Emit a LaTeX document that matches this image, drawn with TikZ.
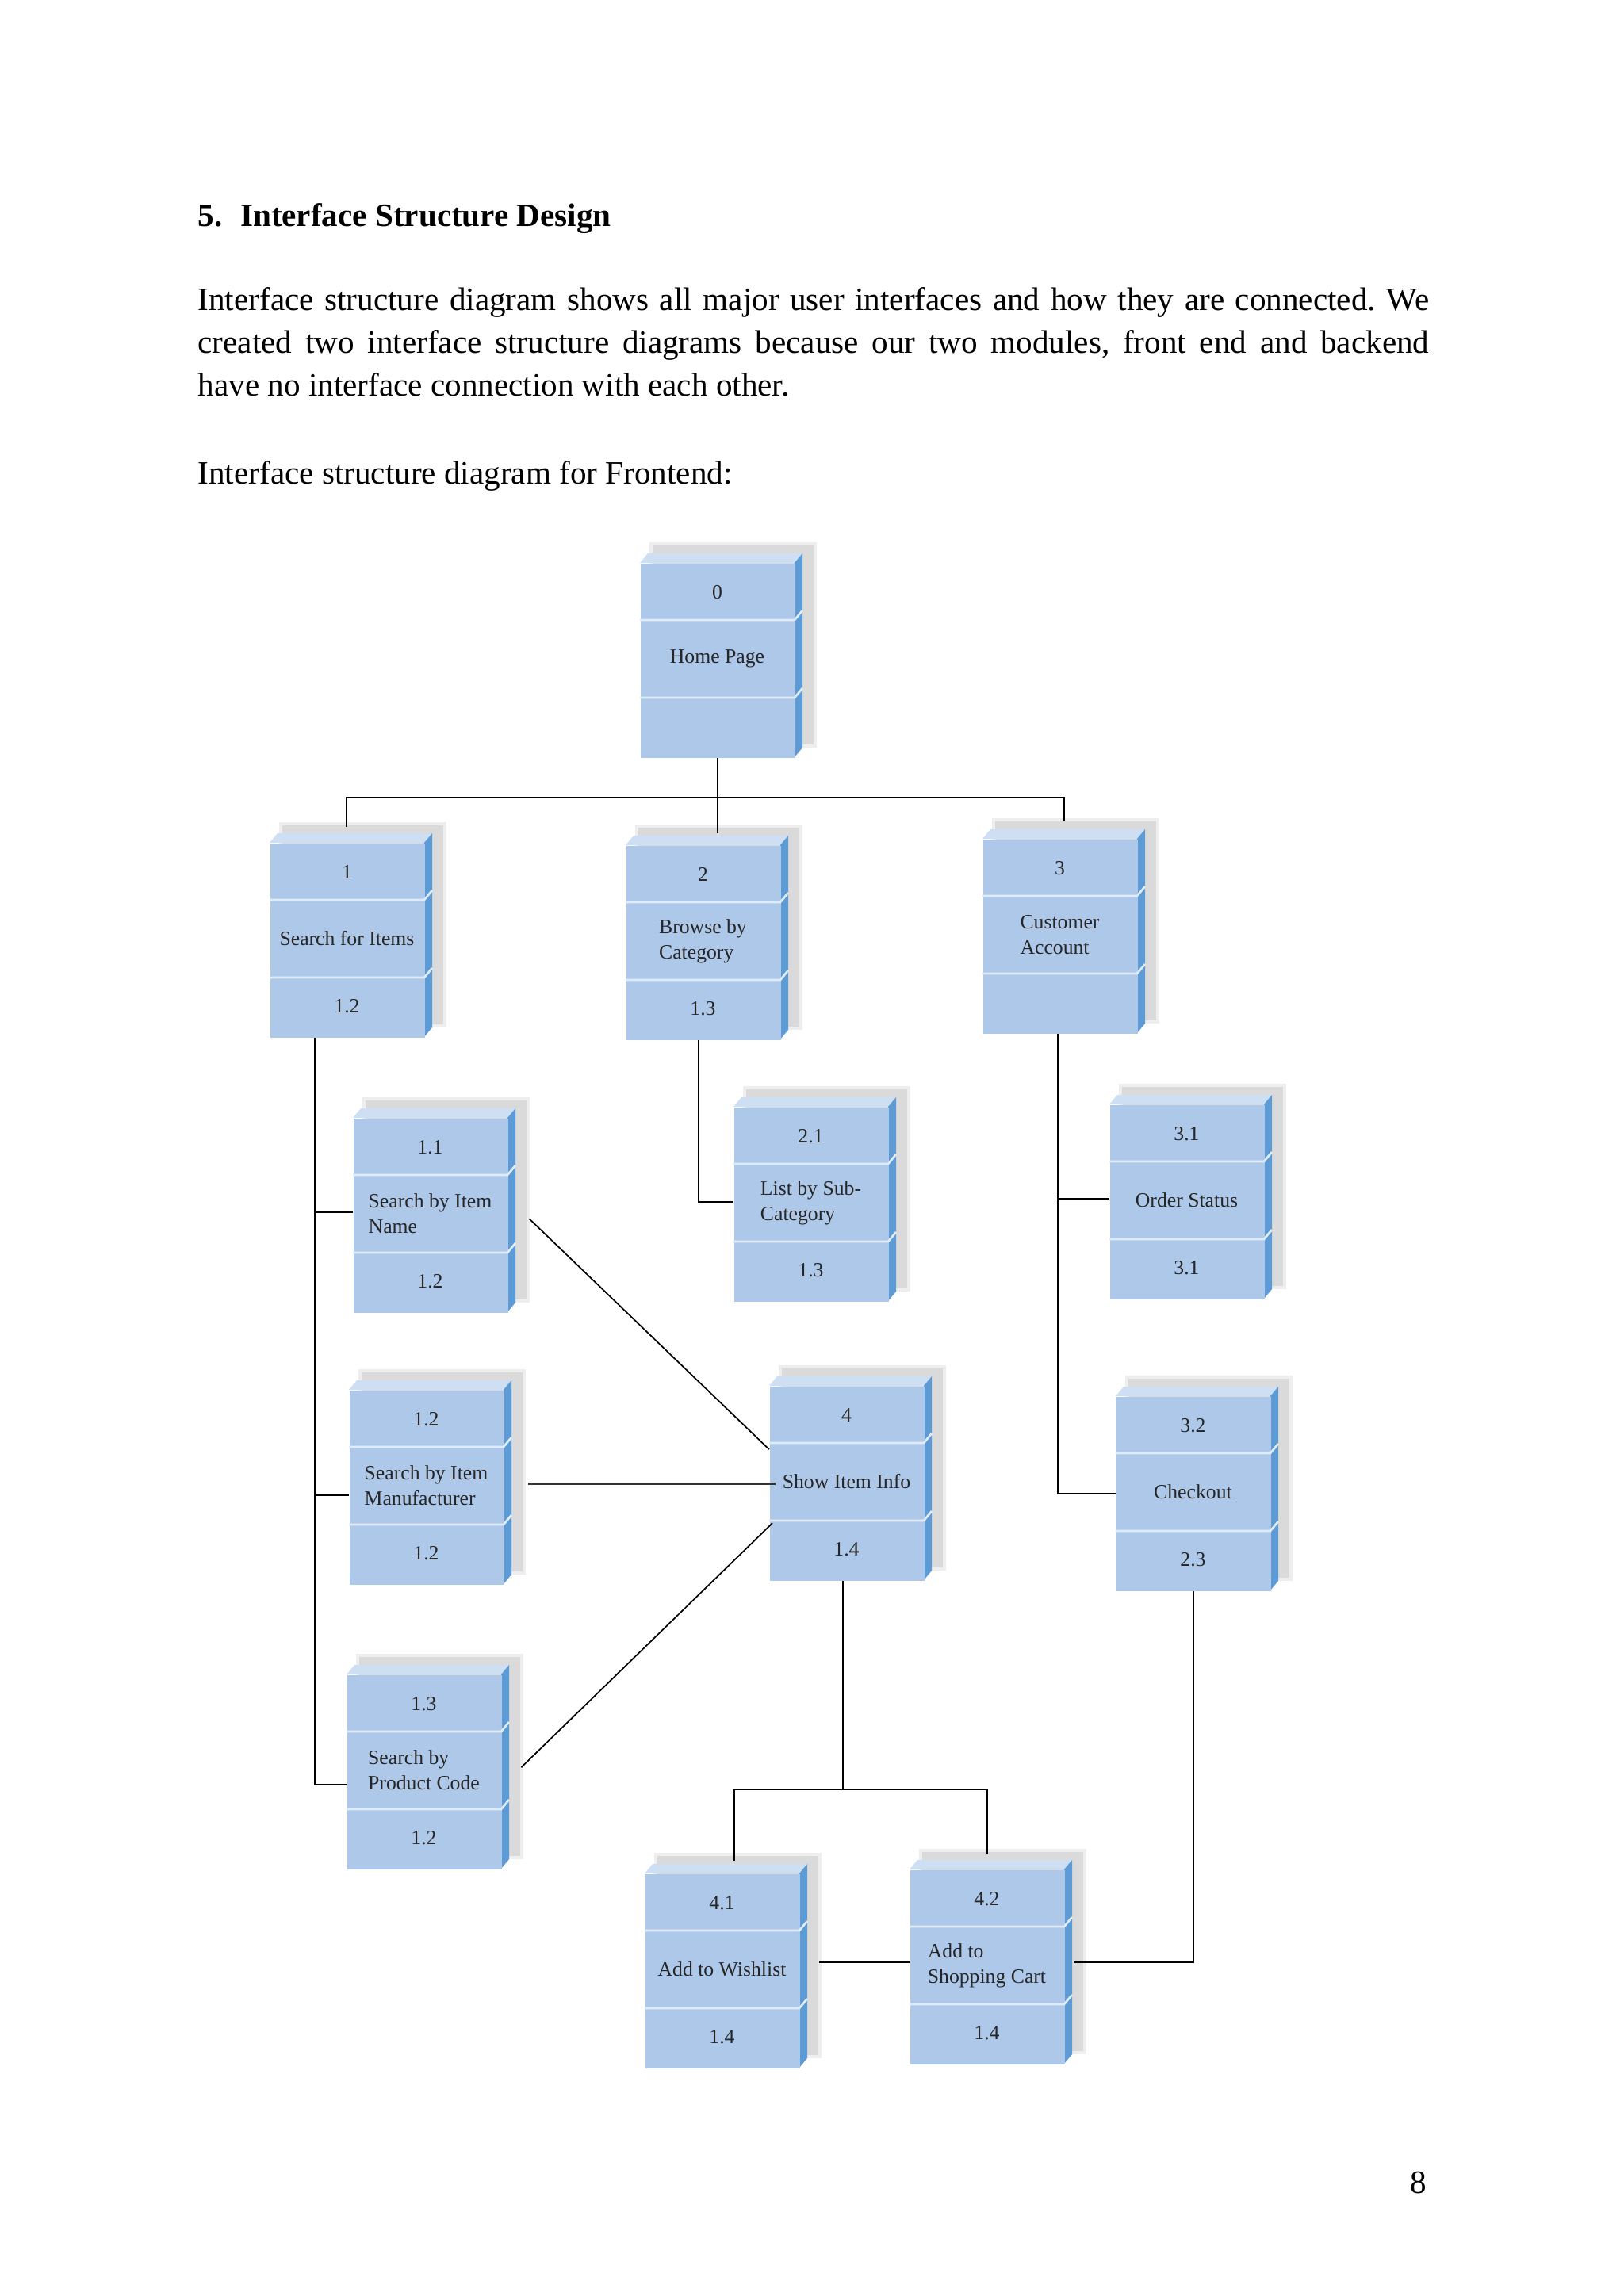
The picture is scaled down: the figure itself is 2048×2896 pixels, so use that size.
\documentclass[tikz,border=0pt]{standalone}
\usepackage{fontspec}
\setmainfont{Liberation Serif}
\usetikzlibrary{calc}

\definecolor{frontblue}{RGB}{174,200,234}
\definecolor{sideblue}{RGB}{92,155,213}
\definecolor{topblue}{RGB}{206,222,243}
\definecolor{seplight}{RGB}{224,235,248}
\definecolor{shadowgray}{RGB}{218,218,218}

\newcommand{\scrfont}{\fontsize{7.5}{9.3}\selectfont}

% One interface screen: name, top-left corner, number, title, reference
\newcommand{\uiscreen}[5]{%
  \coordinate (#1-o) at (#2);
  \fill[shade1] ($(#1-o)+(12,-26)$) rectangle ($(#1-o)+(223,233)$);
  \fill[shade2] ($(#1-o)+(16,-22)$) rectangle ($(#1-o)+(219,229)$);
  \fill[topface] (#1-o) -- ++(10,-12) -- ++(195,0) -- ++(-10,12) -- cycle;
  \fill[sideface] ($(#1-o)+(195,0)$) -- ++(10,-12) -- ++(0,245) -- ++(-10,12) -- cycle;
  \node[screen, anchor=north west] (#1) at (#1-o) {};
  \draw[sep] ($(#1-o)+(0,72)$) -- ++(195,0) -- ++(10,-12);
  \draw[sep] ($(#1-o)+(0,170)$) -- ++(195,0) -- ++(10,-12);
  \node[lbl] (#1-num) at ($(#1-o)+(97.5,37)$) {#3};
  \node[lbl] (#1-txt) at ($(#1-o)+(97.5,121)$) {#4};
  \node[lbl] (#1-ref) at ($(#1-o)+(97.5,206)$) {#5};
}

\begin{document}
\frenchspacing
\begin{tikzpicture}[x=0.10254mm, y=-0.10254mm]
% -------------------------------------------------
% Styles for the page and the screens
\tikzset{
  body/.style={inner sep=0, font=\fontsize{12}{15.85}\selectfont},
  head/.style={body, font=\fontsize{12}{15.85}\selectfont\bfseries},
  screen/.style={rectangle, inner sep=0, fill=frontblue,
    minimum width=19.995mm, minimum height=25.12mm},
  topface/.style={fill=topblue},
  sideface/.style={fill=sideblue},
  shade1/.style={fill=shadowgray!45},
  shade2/.style={fill=shadowgray},
  sep/.style={draw=seplight, line width=0.8pt},
  lbl/.style={inner sep=0, align=left, font=\scrfont, text=black!85},
  link/.style={draw, line width=0.5pt},
  heavy/.style={draw, line width=0.8pt, black!80}
}
\fill[white] (0,0) rectangle (2048,2896);
\useasboundingbox (0,0) rectangle (2048,2896);

% -------------------------------------------------
% Page text
\node[head, anchor=base west] (title) at (249,285) {5.\hspace{0.55em}Interface Structure Design};
\node[body, anchor=base west, text width=159.2mm, align=justify] (intro) at (249,391)
  {Interface structure diagram shows all major user interfaces and how they are connected. We\linebreak
   created two interface structure diagrams because our two modules, front end and backend\linebreak
   have no interface connection with each other.};
\node[body, anchor=base west] (caption) at (249,610) {Interface structure diagram for Frontend:};
\node[body, anchor=base east] (page) at (1800,2766) {8};

% -------------------------------------------------
% Screens
\uiscreen{home}{807,710}{0}{Home Page}{}
\uiscreen{srch}{340,1063}{1}{Search for Items}{1.2}
\uiscreen{brws}{789,1066}{2}{Browse by\\Category}{1.3}
\uiscreen{acct}{1239,1058}{3}{Customer\\Account}{}
\uiscreen{sin}{445,1410}{1.1}{Search by Item\\Name}{1.2}
\uiscreen{sub}{925,1396}{2.1}{List by Sub-\\Category}{1.3}
\uiscreen{ord}{1399,1393}{3.1}{Order Status}{3.1}
\uiscreen{smf}{440,1753}{1.2}{Search by Item\\Manufacturer}{1.2}
\uiscreen{info}{970,1748}{4}{Show Item Info}{1.4}
\uiscreen{chk}{1407,1761}{3.2}{Checkout}{2.3}
\uiscreen{spc}{437,2112}{1.3}{Search by\\Product Code}{1.2}
\uiscreen{wish}{813,2363}{4.1}{Add to Wishlist}{1.4}
\uiscreen{cart}{1147,2358}{4.2}{Add to\\Shopping Cart}{1.4}

% -------------------------------------------------
% Connectors
\draw[link] (home.south) -- ++(0,49) coordinate (hub);
\draw[link] ($(srch.north)+(-1,-20)$) |- (hub) -| ($(acct.north)+(5,-22)$);
\draw[link] (hub) -- ($(brws.north)+(18,-15)$);

\coordinate (t1) at ($(srch.south)+(-41,0)$);
\draw[link] (t1) |- ($(spc.west)+(0,16)$);
\draw[link] ($(sin.west)+(0,-4)$) -- +(-49,0);
\draw[link] ($(smf.west)+(0,10)$) -- +(-44,0);

\draw[link] ($(brws.south)+(-6,0)$) |- ($(sub.west)+(0,-3)$);

\coordinate (t3) at ($(acct.south)+(-3,0)$);
\draw[link] (t3) |- (chk.west);
\draw[link] ($(ord.west)+(0,-4)$) -- +(-66,0);

\draw[link] ($(sin.east)+(26,4)$) -- ($(info.west)+(0,-43)$);
\draw[heavy] ($(smf.east)+(30,-5)$) -- ($(info.west)+(8,0)$);
\draw[link] ($(spc.east)+(24,-6)$) -- ($(info.west)+(4,50)$);

\draw[link] ($(info.south)+(-5,0)$) -- ++(0,263) coordinate (fork);
\draw[link] ($(wish.north)+(15,-16)$) |- (fork) -| ($(cart.north)+(0,-19)$);
\draw[link] ($(wish.east)+(24,-11)$) -- ($(cart.west)+(0,-6)$);
\draw[link] ($(cart.east)+(12,-6)$) -| (chk.south);
% -------------------------------------------------
\end{tikzpicture}
\end{document}
